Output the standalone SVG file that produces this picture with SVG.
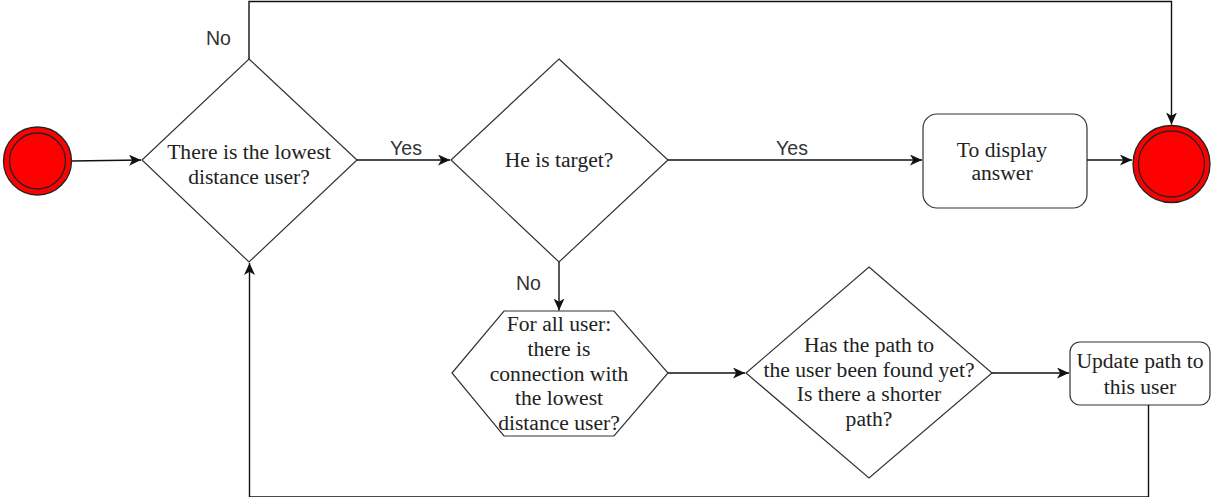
<svg xmlns="http://www.w3.org/2000/svg" width="1211" height="497" viewBox="0 0 1211 497">
<style>
.shape{fill:#fff;stroke:#333;stroke-width:1.2}
.t{font-family:"Liberation Serif","Times New Roman",serif;font-size:21.6px;fill:#222;text-anchor:middle}
.lbl{font-family:"Liberation Sans",Arial,sans-serif;font-size:19.5px;fill:#333;text-anchor:middle}
.c{fill:none;stroke:#111;stroke-width:1.4}
.state{fill:#ff0000;stroke:#222;stroke-width:1.3}
</style>
<defs>
<marker id="arr" markerWidth="13" markerHeight="11" viewBox="0 0 13 11" refX="12" refY="5.5" orient="auto" markerUnits="userSpaceOnUse">
<path d="M0,0 L12,5.5 L0,11 L3.2,5.5 Z" fill="#111"/>
</marker>
</defs>
<rect width="1211" height="497" fill="#fff"/>
<g id="start">
<circle class="state" cx="37.5" cy="161" r="34"/>
<circle class="state" cx="37.5" cy="161" r="28"/>
</g>
<g id="d1">
<polygon class="shape" points="249,59 357,160 249,262 142,160"/>
<text class="t" x="249" y="159">There is the lowest</text>
<text class="t" x="249" y="184">distance user?</text>
</g>
<g id="d2">
<polygon class="shape" points="559,59 668,160 559,262 451,160"/>
<text class="t" x="559" y="167">He is target?</text>
</g>
<g id="display">
<rect class="shape" x="923" y="114" width="164" height="94" rx="14"/>
<text class="t" x="1002" y="157">To display</text>
<text class="t" x="1002" y="180">answer</text>
</g>
<g id="end">
<circle class="state" cx="1171.5" cy="164" r="38.5"/>
<circle class="state" cx="1171.5" cy="164" r="33"/>
</g>
<g id="hex">
<polygon class="shape" points="452,373 504,311 614,311 668,373 614,436 504,436"/>
<text class="t" x="559" y="331">For all user:</text>
<text class="t" x="559" y="356">there is</text>
<text class="t" x="559" y="381">connection with</text>
<text class="t" x="559" y="405">the lowest</text>
<text class="t" x="559" y="430">distance user?</text>
</g>
<g id="d3">
<polygon class="shape" points="869,267 992,373 869,478 746,373"/>
<text class="t" x="869" y="352">Has the path to</text>
<text class="t" x="869" y="377">the user been found yet?</text>
<text class="t" x="869" y="401">Is there a shorter</text>
<text class="t" x="869" y="426">path?</text>
</g>
<g id="update">
<rect class="shape" x="1070" y="342" width="140" height="63" rx="10"/>
<text class="t" x="1140" y="368">Update path to</text>
<text class="t" x="1140" y="394">this user</text>
</g>
<g id="connectors">
<path class="c" d="M72,161 L141,160" marker-end="url(#arr)"/>
<path class="c" d="M357,160 L450,160" marker-end="url(#arr)"/>
<path class="c" d="M668,160 L922,160" marker-end="url(#arr)"/>
<path class="c" d="M1087,160 L1132,160" marker-end="url(#arr)"/>
<path class="c" d="M249,59 L249,1.5 L1171.5,1.5 L1171.5,124.5" marker-end="url(#arr)"/>
<path class="c" d="M559,262 L559,310.5" marker-end="url(#arr)"/>
<path class="c" d="M668,373 L745,373" marker-end="url(#arr)"/>
<path class="c" d="M992,373 L1069,373" marker-end="url(#arr)"/>
<path class="c" d="M1148.5,405 L1148.5,497 L249.5,497 L249.5,263" marker-end="url(#arr)"/>
<text class="lbl" x="218.5" y="45">No</text>
<text class="lbl" x="406" y="155">Yes</text>
<text class="lbl" x="792" y="155">Yes</text>
<text class="lbl" x="528.5" y="290">No</text>
</g>
</svg>
